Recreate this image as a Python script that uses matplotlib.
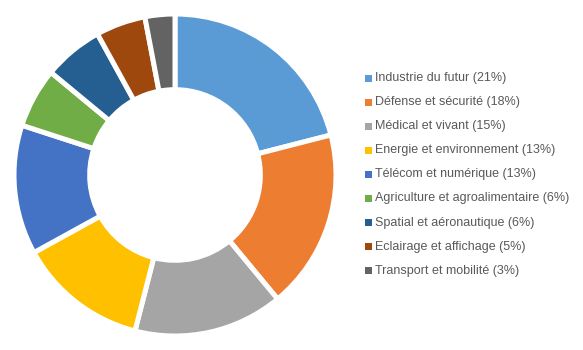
import matplotlib
matplotlib.use("Agg")
import matplotlib.pyplot as plt
from matplotlib.patches import Rectangle

categories = ["Industrie du futur", "Défense et sécurité", "Médical et vivant",
              "Energie et environnement", "Télécom et numérique",
              "Agriculture et agroalimentaire", "Spatial et aéronautique",
              "Eclairage et affichage", "Transport et mobilité"]
values = [21, 18, 15, 13, 13, 6, 6, 5, 3]
colors = ["#5B9BD5", "#ED7D31", "#A5A5A5", "#FFC000", "#4472C4",
          "#70AD47", "#255E91", "#9E480E", "#636363"]

W, H = 583, 350
fig = plt.figure(figsize=(W / 100, H / 100), dpi=100)
cx, cy, R = 175, 175, 161
pad = 1.05
half = R * pad
ax = fig.add_axes([(cx - half) / W, (cy - half) / H, 2 * half / W, 2 * half / H])
ax.pie(values, colors=colors, startangle=90, counterclock=False, radius=1,
       wedgeprops=dict(width=0.47, edgecolor="white", linewidth=3.6))
ax.set_xlim(-pad, pad)
ax.set_ylim(-pad, pad)
ax.set_aspect("equal")
ax.axis("off")

y0 = 78
dy = 24.1
for i, (c, v) in enumerate(zip(categories, values)):
    y = H - (y0 + i * dy)
    fig.patches.append(Rectangle(((365) / W, (y - 3.5) / H), 7 / W, 7 / H,
                                 transform=fig.transFigure, facecolor=colors[i],
                                 edgecolor="none"))
    fig.text(375 / W, y / H, f"{c} ({v}%)", fontsize=9, family="Liberation Sans",
             color="#595959", va="center", ha="left")

fig.savefig("out.png", dpi=100)
